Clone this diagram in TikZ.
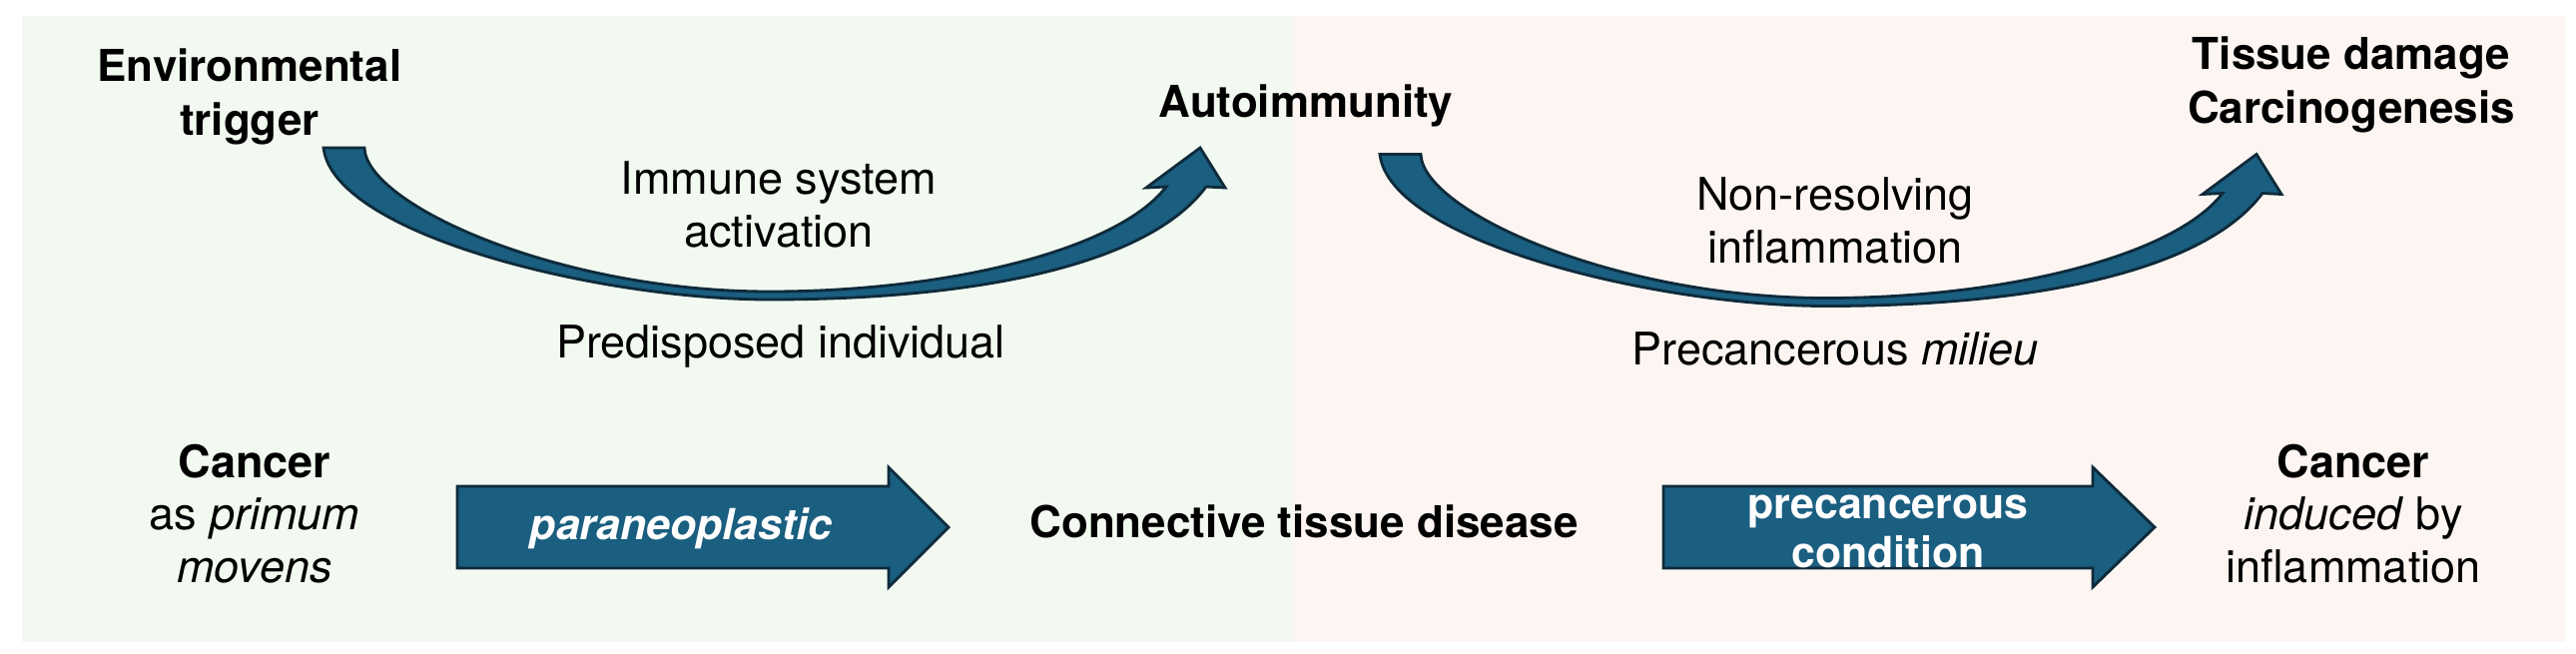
\documentclass[tikz,border=0pt]{standalone}
\usepackage{fontspec}
\setmainfont{TeX Gyre Heros}
\definecolor{greenbg}{RGB}{242,249,240}
\definecolor{pinkbg}{RGB}{252,245,242}
\definecolor{arrowblue}{RGB}{26,94,128}
\definecolor{arrowedge}{RGB}{14,42,58}
\tikzset{
term/.style={font=\fontsize{12.5}{15.1}\selectfont\bfseries, align=center, anchor=base},
note/.style={font=\fontsize{12.8}{14.8}\selectfont, align=center, anchor=base},
arrowtext/.style={font=\fontsize{12.2}{13.7}\selectfont\bfseries, text=white, align=center, anchor=base},
blockarrow/.style={fill=arrowblue, draw=arrowedge, line width=0.8pt, line join=miter}
}
\begin{document}
\begin{tikzpicture}[x=0.01cm, y=-0.01cm]
\useasboundingbox (0,0) rectangle (2580,654);
\fill[greenbg] (22,16) rectangle (1295,643);
\fill[pinkbg] (1295,16) rectangle (2570,643);
\foreach \dx/\dy in {0/0,1058/6.5}
{
\filldraw[blockarrow, shift={(\dx,\dy)}] (324,148) -- (365,148)
 .. controls (367,205) and (560,292) .. (771,292)
 .. controls (950,292) and (1120,250) .. (1168,187)
 -- (1148,188) -- (1202,148) -- (1227,188) -- (1208,187)
 .. controls (1150,265) and (980,300) .. (771,300)
 .. controls (600,300) and (334,235) .. (324,148) -- cycle;
}
\foreach \a/\b/\c in {458/890/950,1666/2096/2158}
{
\filldraw[blockarrow] (\a,487) -- (\b,487) -- (\b,468) -- (\c,528) -- (\b,588) -- (\b,569) -- (\a,569) -- cycle;
}
\node[term] (trigger) at (250,135) {Environmental\\trigger};
\node[term] (autoimm) at (1308,117) {Autoimmunity};
\node[term] (damage) at (2355,123) {Tissue damage\\Carcinogenesis};
\node[note] (activation) at (780,247) {Immune system\\activation};
\node[note] (predisposed) at (782,358) {Predisposed individual};
\node[note] (nonresolving) at (1838,263) {Non-resolving\\inflammation};
\node[note] (milieu) at (1838,365) {Precancerous \textit{milieu}};
\node[note] (primum) at (255,583) {\textbf{Cancer}\\as \textit{primum}\\\textit{movens}};
\node[term] (ctd) at (1306,538) {Connective tissue disease};
\node[note] (induced) at (2357,583) {\textbf{Cancer}\\\textit{induced} by\\inflammation};
\node[arrowtext] (paraneo) at (682,540) {\textit{paraneoplastic}};
\node[arrowtext] (precond) at (1891,568) {precancerous\\condition};
\end{tikzpicture}
\end{document}
